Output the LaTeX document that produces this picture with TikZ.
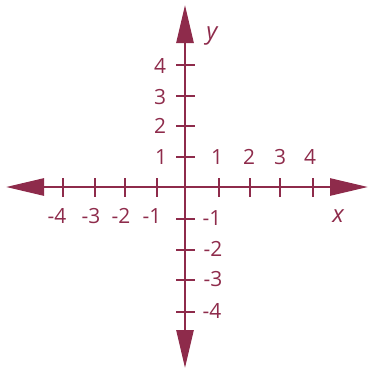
\documentclass[tikz,border=0pt]{standalone}
\usepackage{fontspec}
\setmainfont{Open Sans}
\usetikzlibrary{arrows.meta}
\definecolor{axc}{HTML}{8E2B4B}
\begin{document}
\begin{tikzpicture}[x=1bp,y=-1bp,
  axis/.style={draw=axc,line width=2.7bp,-{Triangle[length=38bp,width=17bp]}},
  tick/.style={draw=axc,line width=2.5bp},
  lbl/.style={text=axc,font=\fontsize{21}{22}\selectfont,inner sep=0pt}]
\useasboundingbox (0,0) rectangle (369,369);
\coordinate (O) at (185,187);
\coordinate (L) at (6,187);
\coordinate (R) at (368,187);
\coordinate (T) at (185,5);
\coordinate (B) at (185,368);
\draw[axis] (O) -- (L);
\draw[axis] (O) -- (R);
\draw[axis] (O) -- (T);
\draw[axis] (O) -- (B);
\foreach \p in {63,95,125,157,219,250,280,313}
  \draw[tick] (\p,178) -- (\p,197);
\foreach \p in {65,96,126,157,219,250,280,312}
  \draw[tick] (176,\p) -- (195,\p);
% positive y labels
\node[lbl] (y4) at (160,66) {4};
\node[lbl] (y3) at (160,97) {3};
\node[lbl] (y2) at (160,126) {2};
\node[lbl] (y1) at (161,157) {1};
% negative y labels
\node[lbl] (ym1) at (212,218) {-1};
\node[lbl] (ym2) at (213,249) {-2};
\node[lbl] (ym3) at (213,279) {-3};
\node[lbl] (ym4) at (212,311) {-4};
% positive x labels
\node[lbl] (x1) at (217,157) {1};
\node[lbl] (x2) at (249,157) {2};
\node[lbl] (x3) at (280,157) {3};
\node[lbl] (x4) at (310,157) {4};
% negative x labels
\node[lbl] (xm4) at (57,216) {-4};
\node[lbl] (xm3) at (91,216) {-3};
\node[lbl] (xm2) at (121,216) {-2};
\node[lbl] (xm1) at (152,216) {-1};
% axis names
\node[lbl,font=\fontsize{24}{26}\selectfont\itshape] (ylab) at (212,36) {y};
\node[lbl,font=\fontsize{24}{26}\selectfont\itshape] (xlab) at (338,216) {x};
\end{tikzpicture}
\end{document}
